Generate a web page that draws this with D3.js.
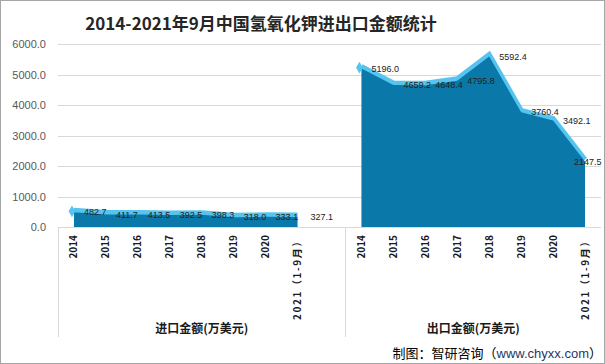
<!DOCTYPE html>
<html><head><meta charset="utf-8">
<script src="https://cdn.jsdelivr.net/npm/d3@7"></script>
<style>
html,body{margin:0;padding:0;background:#fff;}
svg{display:block;font-family:"Microsoft YaHei","Noto Sans CJK SC",sans-serif;}
</style></head>
<body>
<svg id="chart" width="605" height="364"></svg>
<script>
const years = ["2014","2015","2016","2017","2018","2019","2020","2021（1-9月）"];
const importValues = [482.7, 411.7, 413.5, 392.5, 398.3, 318.0, 333.1, 327.1];
const exportValues = [5196.0, 4659.2, 4648.4, 4795.8, 5592.4, 3760.4, 3492.1, 2147.5];
const groupLabels = ["进口金额(万美元)", "出口金额(万美元)"];
const yTicks = [0, 1000, 2000, 3000, 4000, 5000, 6000];
const title = "2014-2021年9月中国氢氧化钾进出口金额统计";

(function(){
const svg = d3.select("#chart");
const W = 605, H = 364;
const pLeft = 58, pRight = 601, pTop = 44, pBottom = 227;

svg.append("rect").attr("x",0.5).attr("y",0.5).attr("width",W-1).attr("height",H-1)
  .attr("fill","#fff").attr("stroke","#a6a6a6");

const impKeys = years.map(y => "imp|" + y);
const expKeys = years.map(y => "exp|" + y);
const domain = [...impKeys, "gap", ...expKeys];
const x = d3.scaleBand().domain(domain).range([pLeft, pRight]).padding(0);
const cx = k => x(k) + x.bandwidth()/2;
const y = d3.scaleLinear().domain([0, 6000]).range([pBottom, pTop]);

svg.append("g").selectAll("line").data(yTicks.filter(d => d > 0)).join("line")
  .attr("x1", pLeft).attr("x2", pRight)
  .attr("y1", d => Math.round(y(d))+0.5).attr("y2", d => Math.round(y(d))+0.5)
  .attr("stroke", "#d9d9d9").attr("stroke-width", 1);

const yAxis = d3.axisLeft(y).tickValues(yTicks).tickFormat(d3.format(".1f")).tickSize(0).tickPadding(12);
const yg = svg.append("g").attr("transform", `translate(${pLeft},0)`).call(yAxis);
yg.select(".domain").remove();
yg.selectAll("text").attr("fill","#595959").style("font-size","11px")
  .style("font-family","'Liberation Sans',Arial,sans-serif");

const impData = years.map((yr,i) => ({k: impKeys[i], v: importValues[i]}));
const expData = years.map((yr,i) => ({k: expKeys[i], v: exportValues[i]}));

const lineGen = d3.line().x(d => cx(d.k)).y(d => y(d.v));
const areaGen = d3.area().x(d => cx(d.k)).y0(y(0)).y1(d => y(d.v));

[impData, expData].forEach(data => {
  svg.append("path").datum(data).attr("d", lineGen)
    .attr("transform","translate(0,-2)")
    .attr("fill","none").attr("stroke","#55c4ee").attr("stroke-width",5)
    .attr("stroke-linejoin","miter");
  svg.append("path").datum(data).attr("d", areaGen).attr("fill","#0a78a8");
  const p = data[0];
  svg.append("path").attr("d", d3.symbol(d3.symbolDiamond, 40)())
    .attr("transform", `translate(${cx(p.k)-2},${y(p.v)-1})`)
    .attr("fill","#55c4ee");
});

svg.append("line").attr("x1", pLeft).attr("x2", pRight).attr("y1", pBottom+0.5).attr("y2", pBottom+0.5)
  .attr("stroke","#d9d9d9");

function labels(data, lastShift) {
  svg.append("g").selectAll("text").data(data).join("text")
    .attr("x", (d,i) => cx(d.k) + (i === data.length-1 ? lastShift : 10))
    .attr("y", d => y(d.v))
    .attr("dy","0.35em")
    .attr("fill","#222")
    .style("font-size","9px")
    .style("font-family","'Liberation Sans',Arial,sans-serif")
    .text(d => d3.format(".1f")(d.v));
}
labels(impData, 13);
labels(expData, -11);

const xAxis = d3.axisBottom(x).tickValues([...impKeys, ...expKeys])
  .tickFormat(k => k.split("|")[1]).tickSize(0);
const xg = svg.append("g").attr("transform", `translate(0,${pBottom})`).call(xAxis);
xg.select(".domain").remove();
xg.selectAll("text")
  .attr("transform","rotate(-90)")
  .attr("x", -8).attr("y", 0).attr("dy","0.35em")
  .style("text-anchor","end")
  .attr("fill","#1a1a1a")
  .style("font-size","10px").style("font-weight","bold")
  .style("letter-spacing", k => k.split("|")[1].length > 4 ? "1.6px" : "0px")
  .style("font-family","'Noto Sans CJK SC',sans-serif");

const sepX = [pLeft, x("exp|2014")];
svg.append("g").selectAll("line").data(sepX).join("line")
  .attr("x1", d => Math.round(d)+0.5).attr("x2", d => Math.round(d)+0.5)
  .attr("y1", pBottom).attr("y2", 337)
  .attr("stroke","#d9d9d9");

const groupCenters = [(pLeft + x("exp|2014"))/2, (x("exp|2014") + pRight)/2];
svg.append("g").selectAll("text").data(groupLabels).join("text")
  .attr("x", (d,i) => groupCenters[i]).attr("y", 329)
  .attr("dy","0.35em")
  .attr("text-anchor","middle")
  .attr("fill","#1a1a1a")
  .style("font-size","12px").style("font-weight","bold")
  .text(d => d);

svg.append("text").attr("x", 261).attr("y", 24).attr("dy","0.35em")
  .attr("text-anchor","middle").attr("fill","#262626")
  .style("font-size","17px").style("font-weight","bold")
  .text(title);

const src = svg.append("text").attr("x", 602).attr("y", 353).attr("dy","0.35em")
  .attr("text-anchor","end").style("font-size","13px").attr("fill","#000");
src.append("tspan").text("制图：智研咨询（");
src.append("tspan").attr("fill","#1f3864").style("font-family","'Liberation Sans',Arial,sans-serif").text("www.chyxx.com");
src.append("tspan").text("）");
})();
</script>
</body></html>
